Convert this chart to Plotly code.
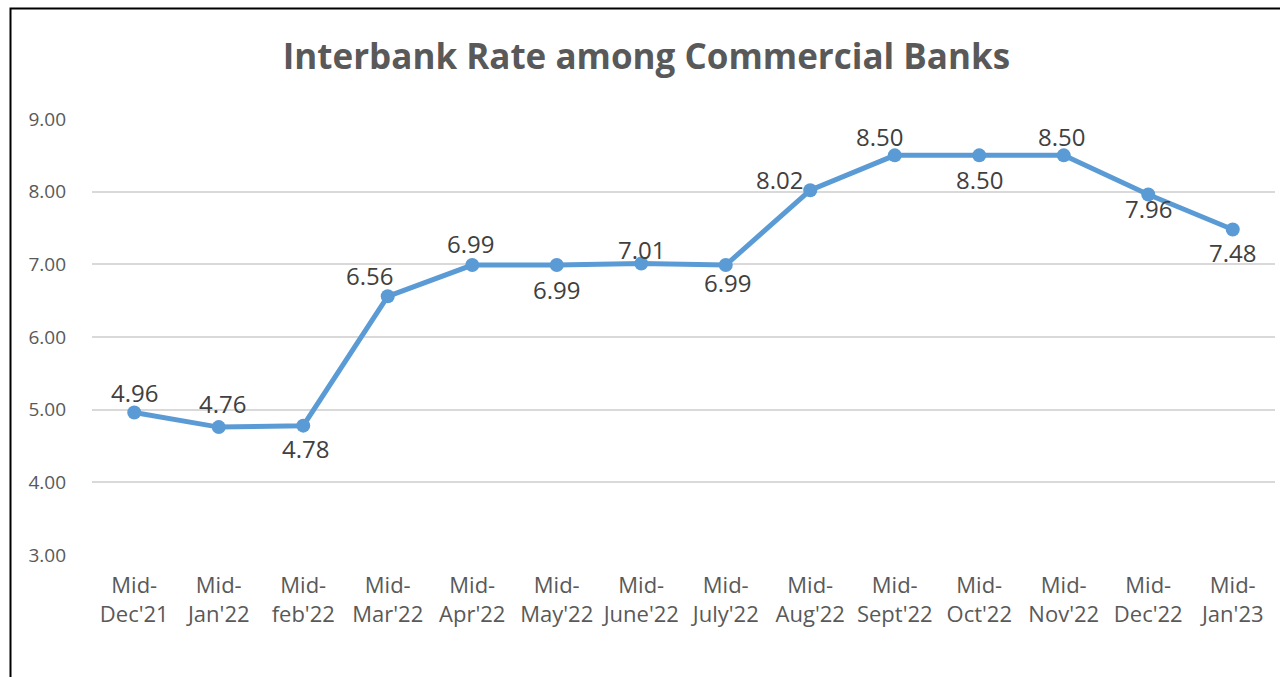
import plotly.graph_objects as go

months = ["Mid-<br>Dec'21", "Mid-<br>Jan'22", "Mid-<br>feb'22", "Mid-<br>Mar'22", "Mid-<br>Apr'22",
          "Mid-<br>May'22", "Mid-<br>June'22", "Mid-<br>July'22", "Mid-<br>Aug'22", "Mid-<br>Sept'22",
          "Mid-<br>Oct'22", "Mid-<br>Nov'22", "Mid-<br>Dec'22", "Mid-<br>Jan'23"]
rates = [4.96, 4.76, 4.78, 6.56, 6.99, 6.99, 7.01, 6.99, 8.02, 8.50, 8.50, 8.50, 7.96, 7.48]
y_ticks = [3, 4, 5, 6, 7, 8, 9]

# label offsets (px) for each data label
label_dx = [0, 4, 2, -18, -2, 0, 0, 2, -31, -15, 0, -2, 0, 0]
label_dy = [-20, -24, 23, -21, -22, 24, -14, 17, -11, -19, 24, -19, 14, 23]

fig = go.Figure()
fig.add_trace(go.Scatter(
    x=list(range(len(months))), y=rates, mode="lines+markers",
    line=dict(color="#5B9BD5", width=5),
    marker=dict(color="#5B9BD5", size=14),
    showlegend=False, hoverinfo="skip", cliponaxis=False,
))

for i, v in enumerate(rates):
    fig.add_annotation(x=i, y=v, text=f"{v:.2f}", showarrow=False,
                       xshift=label_dx[i], yshift=-label_dy[i],
                       font=dict(family="Open Sans", size=24, color="#404040"))

fig.update_layout(
    width=1280, height=677,
    paper_bgcolor="white", plot_bgcolor="white",
    margin=dict(l=92, r=5, t=119, b=122),
    title=dict(text="<b>Interbank Rate among Commercial Banks</b>", x=0.505, xanchor="center",
               y=1 - 57 / 677, yanchor="middle",
               font=dict(family="Open Sans", size=35, color="#595959")),
    xaxis=dict(tickmode="array", tickvals=list(range(len(months))), ticktext=months,
               range=[-0.5, len(months) - 0.5], showgrid=False, zeroline=False,
               showline=False, ticks="", ticklabelstandoff=15,
               tickfont=dict(family="Open Sans", size=22, color="#595959")),
    yaxis=dict(range=[3, 9], tickvals=y_ticks, ticktext=[f"{t:.2f}" for t in y_ticks],
               showgrid=True, gridcolor="#D9D9D9", gridwidth=1.5, zeroline=False,
               showline=False, ticks="", ticklabelstandoff=25,
               tickfont=dict(family="Open Sans", size=19, color="#595959")),
)

pw, ph = 1280 - 92 - 5, 677 - 119 - 122
fig.add_shape(type="rect", xref="paper", yref="paper",
              x0=(10.5 - 92) / pw, x1=1.2, y0=-0.6, y1=1 + (119 - 8.5) / ph,
              line=dict(color="black", width=2), layer="above")

fig.write_html("out.html")
